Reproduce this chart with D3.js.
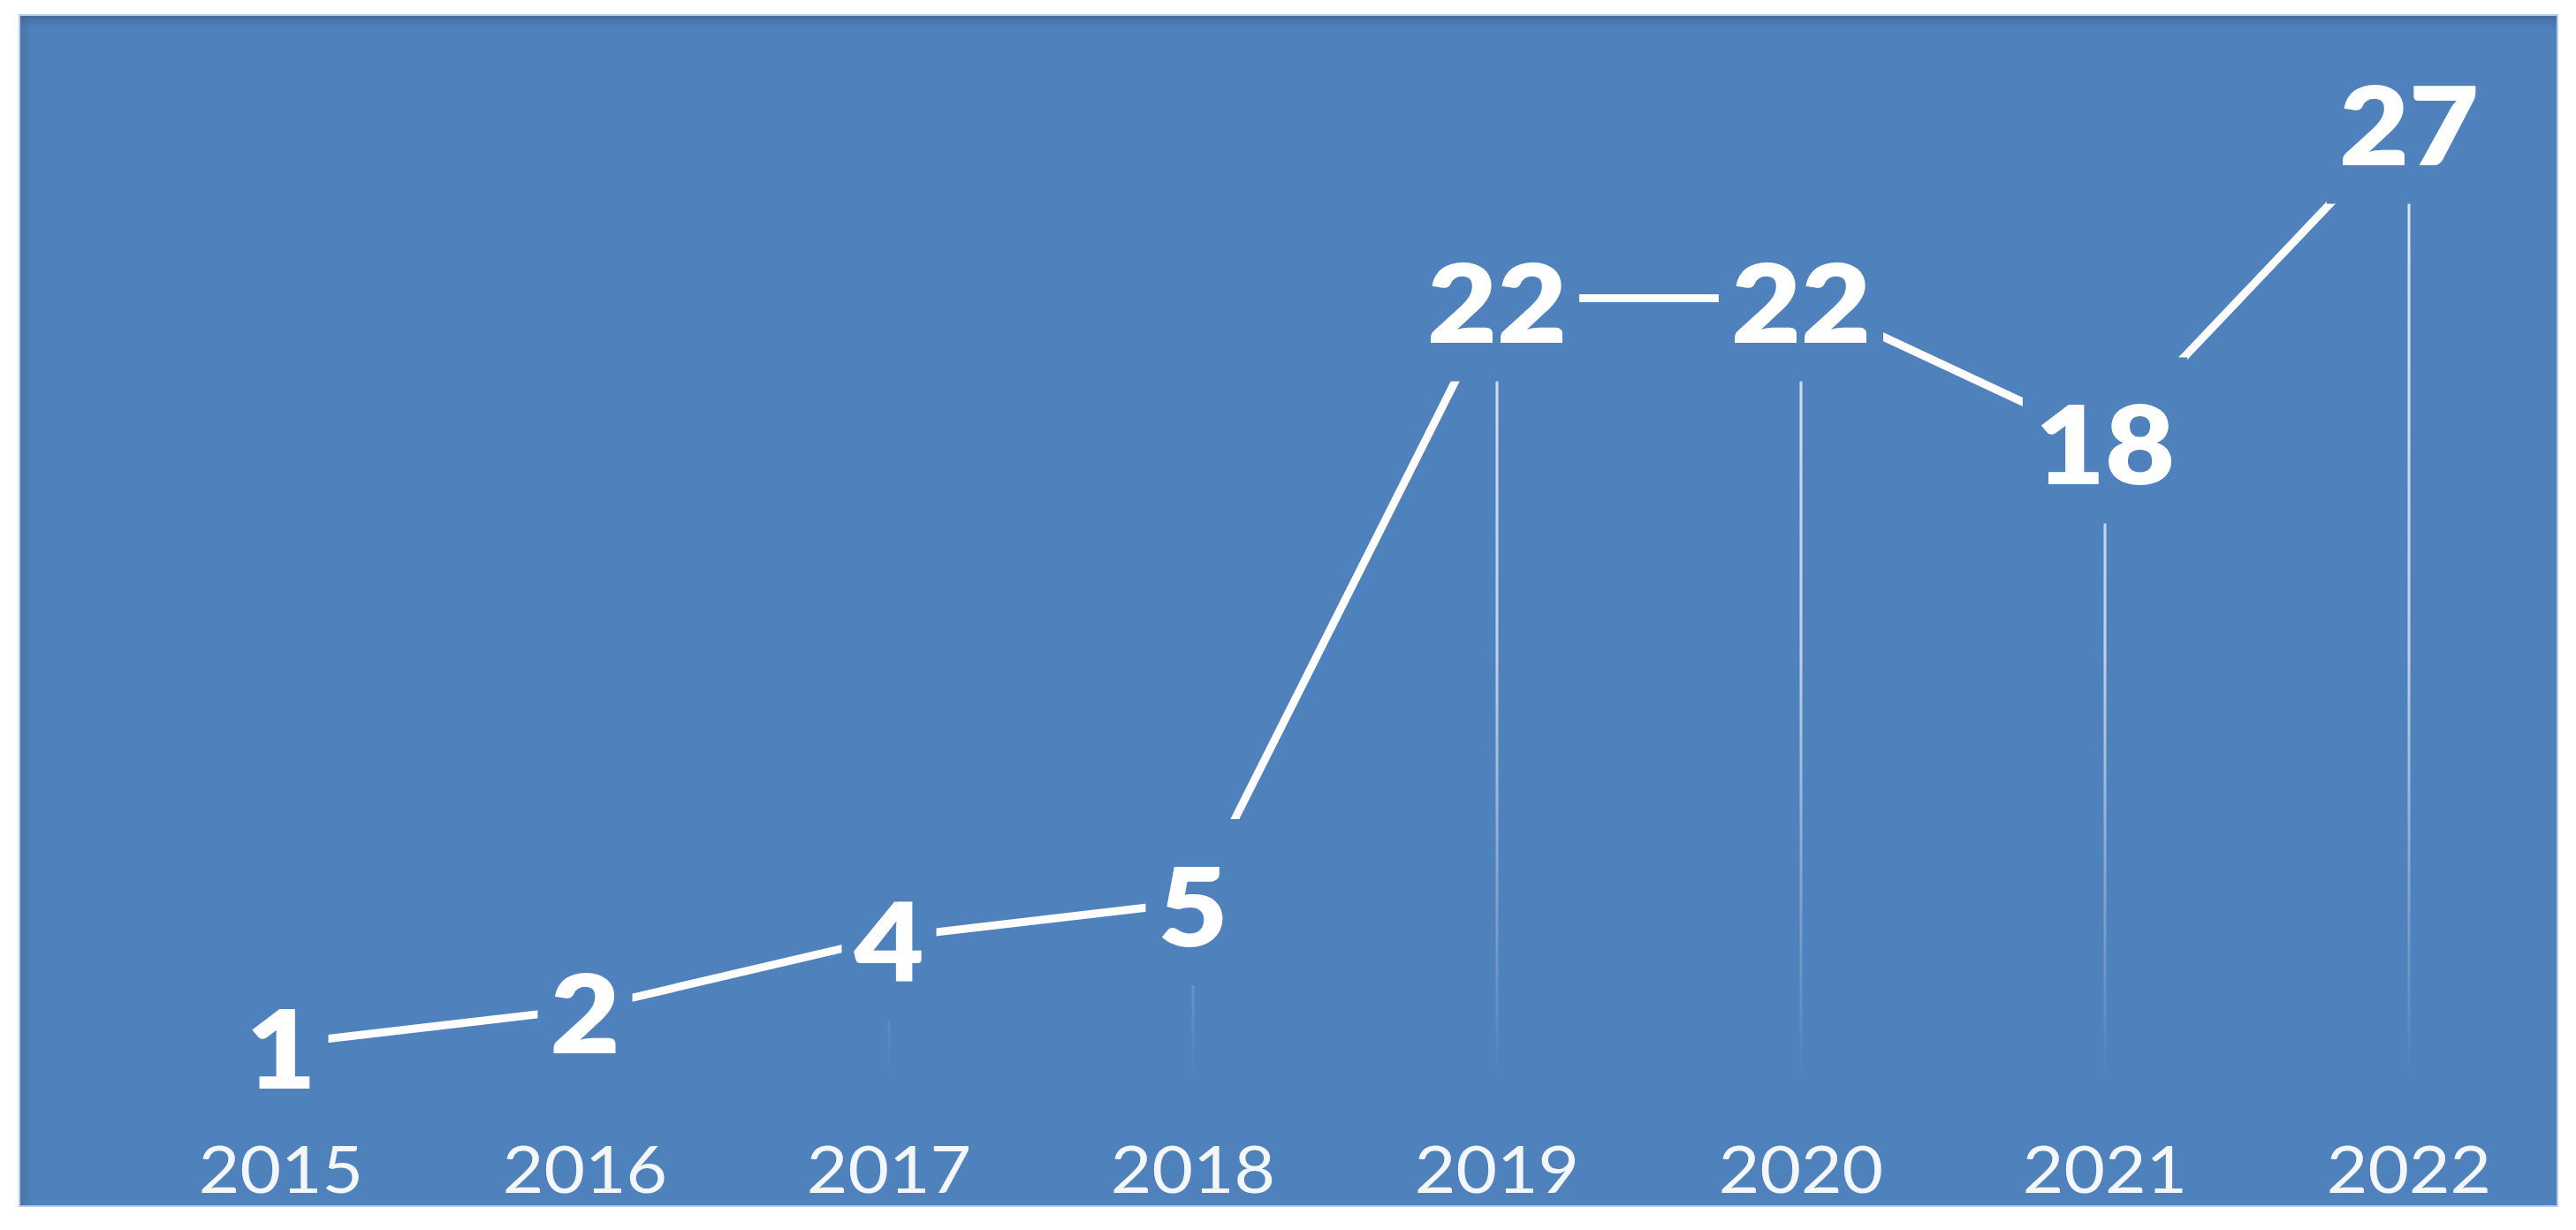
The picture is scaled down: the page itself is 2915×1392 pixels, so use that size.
<!DOCTYPE html>
<html>
<head>
<meta charset="utf-8">
<script src="https://cdn.jsdelivr.net/npm/d3@7"></script>
<style>
  html, body { margin: 0; padding: 0; background: #ffffff; }
  svg { display: block; }
</style>
</head>
<body>
<svg id="chart" width="2915" height="1392"></svg>
<script>
// ---- data ----
const years = ["2015", "2016", "2017", "2018", "2019", "2020", "2021", "2022"];
const counts = [1, 2, 4, 5, 22, 22, 18, 27];
const yDomain = [0, 30];

// ---- layout ----
const W = 2915, H = 1392;
const panel = { x: 23, y: 18, w: 2870, h: 1346 };
const bg = "#4f81bd";
const stretch = 1.1;

const svg = d3.select("#chart");
const defs = svg.append("defs");

const x = d3.scalePoint().domain(years).range([318, 2726]);
const y = d3.scaleLinear().domain(yDomain).range([1222, 16]);

// panel
svg.append("rect")
  .attr("x", panel.x - 2).attr("y", panel.y - 2)
  .attr("width", panel.w + 4).attr("height", panel.h + 4)
  .attr("fill", "#b4cdef");
svg.append("rect")
  .attr("x", panel.x).attr("y", panel.y)
  .attr("width", panel.w).attr("height", panel.h)
  .attr("fill", bg);
// subtle inner shadow at top and left
const gTop = defs.append("linearGradient").attr("id", "shTop").attr("x1", 0).attr("y1", 0).attr("x2", 0).attr("y2", 1);
gTop.append("stop").attr("offset", 0).attr("stop-color", "#3d5f8a").attr("stop-opacity", 0.55);
gTop.append("stop").attr("offset", 1).attr("stop-color", "#3d5f8a").attr("stop-opacity", 0);
svg.append("rect").attr("x", panel.x).attr("y", panel.y).attr("width", panel.w).attr("height", 14).attr("fill", "url(#shTop)");
const gLeft = defs.append("linearGradient").attr("id", "shLeft").attr("x1", 0).attr("y1", 0).attr("x2", 1).attr("y2", 0);
gLeft.append("stop").attr("offset", 0).attr("stop-color", "#3d5f8a").attr("stop-opacity", 0.35);
gLeft.append("stop").attr("offset", 1).attr("stop-color", "#3d5f8a").attr("stop-opacity", 0);
svg.append("rect").attr("x", panel.x).attr("y", panel.y).attr("width", 14).attr("height", panel.h).attr("fill", "url(#shLeft)");

const data = years.map((yr, i) => ({ year: yr, value: counts[i] }));

// drop lines (fading toward axis)
const dg = defs.append("linearGradient").attr("id", "dropFade")
  .attr("gradientUnits", "userSpaceOnUse")
  .attr("x1", 0).attr("y1", y(27)).attr("x2", 0).attr("y2", y(0));
dg.append("stop").attr("offset", 0).attr("stop-color", "#e6eef8").attr("stop-opacity", 0.95);
dg.append("stop").attr("offset", 0.55).attr("stop-color", "#e6eef8").attr("stop-opacity", 0.75);
dg.append("stop").attr("offset", 1).attr("stop-color", "#e6eef8").attr("stop-opacity", 0);

svg.append("g").selectAll("rect.drop").data(data).join("rect")
  .attr("class", "drop")
  .attr("x", d => x(d.year) - 1.5)
  .attr("y", d => Math.min(y(d.value), y(0)))
  .attr("width", 3)
  .attr("height", d => Math.max(0, y(0) - y(d.value)))
  .attr("fill", "url(#dropFade)");

// series line
svg.append("path")
  .datum(data)
  .attr("fill", "none")
  .attr("stroke", "#ffffff")
  .attr("stroke-width", 9)
  .attr("d", d3.line().x(d => x(d.year)).y(d => y(d.value)));

// data labels with masking boxes
const lg = svg.append("g");
const labelG = lg.selectAll("g.lbl").data(data).join("g")
  .attr("class", "lbl")
  .attr("transform", d => `translate(${x(d.year)},${y(d.value)})`);
const maskRects = labelG.append("rect").attr("fill", bg);
const texts = labelG.append("text")
  .attr("text-anchor", "middle")
  .attr("y", 50)
  .attr("transform", `scale(${stretch},1)`)
  .attr("font-family", "Lato, 'Open Sans', sans-serif")
  .attr("font-weight", 800)
  .attr("font-size", 124)
  .attr("fill", "#ffffff")
  .text(d => d.value);
texts.each(function (d) {
  const w = this.getComputedTextLength() * stretch;
  const halfW = w / 2 + 14;
  d3.select(this.parentNode).select("rect")
    .attr("x", -halfW).attr("y", -94)
    .attr("width", halfW * 2).attr("height", 188);
});

// category labels
svg.append("g").selectAll("text.yr").data(years).join("text")
  .attr("class", "yr")
  .attr("transform", d => `translate(${x(d)},1350) scale(${stretch},1)`)
  .attr("text-anchor", "middle")
  .attr("font-family", "Lato, 'Open Sans', sans-serif")
  .attr("font-size", 73)
  .attr("fill", "#f3f7fc")
  .text(d => d);
</script>
</body>
</html>
